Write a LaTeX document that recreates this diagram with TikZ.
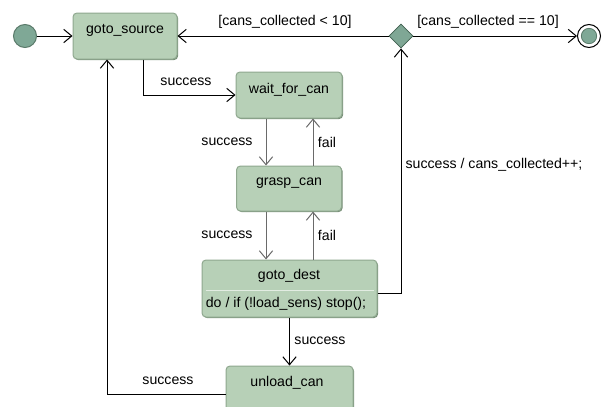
\documentclass[tikz,border=0pt]{standalone}
\usepackage{fontspec}
\setmainfont{Liberation Sans}
\usetikzlibrary{arrows.meta,shapes.geometric,shadows}
\definecolor{boxfill}{HTML}{B7D0B7}
\definecolor{boxline}{HTML}{8FA88F}
\definecolor{boxshadow}{HTML}{768E76}
\definecolor{statefill}{HTML}{7FA896}
\definecolor{stateline}{HTML}{5A7A6A}
\definecolor{diafill}{HTML}{7FA795}
\definecolor{dialine}{HTML}{3F5F4F}
\definecolor{lgray}{HTML}{6A6A6A}
\begin{document}
\begin{tikzpicture}[x=0.75pt,y=-0.75pt,
  font=\fontsize{10.6}{12}\selectfont,
  statebox/.style={draw=boxline, fill=boxfill, line width=0.75pt, rounded corners=3pt,
    drop shadow={shadow xshift=0.8pt, shadow yshift=-0.8pt, fill=boxshadow, opacity=1},
    inner sep=0pt},
  conn/.style={line width=0.75pt, draw=black, -{Straight Barb[length=6pt,width=10pt,line width=0.75pt]}},
  gconn/.style={conn, draw=lgray},
  lbl/.style={inner sep=0pt, text=black},
  initstate/.style={circle, draw=stateline, fill=statefill, line width=0.75pt, minimum size=17.25pt, inner sep=0pt},
  choice/.style={diamond, draw=dialine, fill=diafill, line width=0.6pt, minimum size=18pt, inner sep=0pt, aspect=1}
]
\useasboundingbox (0,0) rectangle (604,407);

% states
\node[initstate] (init) at (25,36) {};
\node[statebox, minimum width=78pt, minimum height=34.5pt] (gs) at (125,36) {};
\node[lbl] (gst) at (125,30) {goto\_source};
\node[statebox, minimum width=79.5pt, minimum height=34.5pt] (wait) at (289,95) {};
\node[lbl] (waitt) at (289,90) {wait\_for\_can};
\node[statebox, minimum width=78.75pt, minimum height=33.75pt] (grasp) at (289,188.5) {};
\node[lbl] (graspt) at (289,183) {grasp\_can};
\node[statebox, minimum width=131.25pt, minimum height=42.75pt] (dest) at (289.5,288.5) {};
\node[lbl] (destt) at (289,276) {goto\_dest};
\draw[draw=white, opacity=0.6, line width=0.9pt] ([xshift=3pt,yshift=-1.5pt]dest.west) coordinate (sepL) -- ([xshift=-3pt,yshift=-1.5pt]dest.east) coordinate (sepR);
\node[lbl] (destb) at (286,304) {do / if (!load\_sens) stop();};
\node[statebox, minimum width=95.25pt, minimum height=34.5pt] (unload) at (289.5,389) {};
\node[lbl] (unloadt) at (287,383) {unload\_can};

\node[choice] (dia) at (401,36) {};
\node[circle, draw=black, fill=white, line width=0.75pt, minimum size=17.25pt, inner sep=0pt] (final) at (589,36) {};
\node[circle, draw=stateline, fill=statefill, line width=0.6pt, minimum size=11.5pt, inner sep=0pt] (finalin) at (589,36) {};

% connectors
\draw[conn] (init) -- (gs.west);
\draw[conn] (dia.west) -- (gs.east);
\node[lbl] (l1) at (285,22) {[cans\_collected < 10]};
\draw[conn] (dia.east) -- (final.west);
\node[lbl] (l2) at (488,22) {[cans\_collected == 10]};
\draw[conn] ([xshift=13.5pt]gs.south) |- (wait.west);
\node[lbl] (l3) at (186,82) {success};
\draw[gconn] ([xshift=-17.25pt]wait.south) -- ([xshift=-17.25pt]grasp.north);
\draw[gconn] ([xshift=18pt]grasp.north) -- ([xshift=18pt]wait.south);
\node[lbl] (l4) at (227,142) {success};
\node[lbl] (l5) at (327,142) {fail};
\draw[gconn] ([xshift=-17.25pt]grasp.south) -- ([xshift=-17.25pt]grasp.south |- dest.north);
\draw[gconn] ([xshift=18pt]grasp.south |- dest.north) -- ([xshift=18pt]grasp.south);
\node[lbl] (l6) at (227,235) {success};
\node[lbl] (l7) at (327,235) {fail};
\draw[conn] ([yshift=-4.1pt]dest.east) -| (dia.south);
\node[lbl] (l8) at (494,165) {success / cans\_collected++;};
\draw[conn] (dest.south -| unload.north) -- (unload.north);
\node[lbl] (l9) at (320,341) {success};
\draw[conn] ([yshift=-3.75pt]unload.west) -| ([xshift=-13.5pt]gs.south);
\node[lbl] (l10) at (168,381) {success};
\end{tikzpicture}
\end{document}
